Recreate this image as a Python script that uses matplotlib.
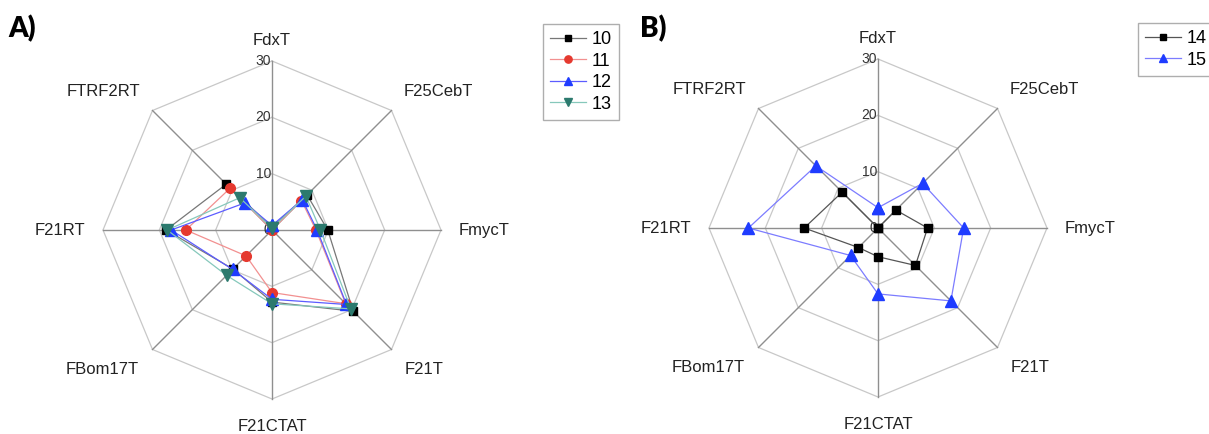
import numpy as np
import matplotlib.pyplot as plt

plt.rcParams['font.family'] = ['Liberation Sans', 'DejaVu Sans']

axis_names = ['FdxT', 'F25CebT', 'FmycT', 'F21T', 'F21CTAT', 'FBom17T', 'F21RT', 'FTRF2RT']
r_ticks = [0, 10, 20, 30]

# panel A series
s10 = [0.5, 8.8, 9.9, 20.4, 12.8, 9.8, 18.8, 11.5]
s11 = [0.0, 7.4, 7.8, 18.5, 11.1, 6.5, 15.3, 10.5]
s12 = [0.8, 7.6, 8.0, 18.7, 12.3, 9.9, 17.9, 6.8]
s13 = [0.3, 8.5, 8.6, 19.8, 13.1, 11.4, 18.6, 8.1]
# panel B series
s14 = [0.0, 4.5, 8.8, 9.4, 5.1, 4.9, 13.1, 9.0]
s15 = [3.6, 11.2, 15.2, 18.3, 11.7, 6.9, 23.0, 15.6]

# name, values, line colour, marker, marker colour, marker size
series_a = [('10', s10, '#777777', 's', 'black', 6),
            ('11', s11, '#f29090', 'o', '#e5392f', 7),
            ('12', s12, '#5c5cff', '^', '#1f3cff', 8),
            ('13', s13, '#86c8bb', 'v', '#2c7a6e', 8)]
series_b = [('14', s14, '#555555', 's', 'black', 6),
            ('15', s15, '#7c7cff', '^', '#1f3cff', 8)]

# label alignment and offset (pixels) from the outer vertex of each spoke
label_pos = [('center', 'bottom', 0, 13), ('left', 'bottom', 12, 11),
             ('left', 'center', 18, 0), ('left', 'top', 13, -12),
             ('center', 'top', 0, -20), ('right', 'top', -14, -12),
             ('right', 'center', -18, 0), ('right', 'bottom', -12, 11)]

W, H = 1209, 434
fig = plt.figure(figsize=(W / 100, H / 100), dpi=100)
theta = np.linspace(0, 2 * np.pi, len(axis_names), endpoint=False)
rmax = r_ticks[-1]


def radar(cx, cy, rad, series, tag, tag_x, leg_xy):
    ax = fig.add_axes([(cx - rad) / W, 1 - (cy + rad) / H, 2 * rad / W, 2 * rad / H],
                      projection='polar')
    ax.set_theta_zero_location('N')
    ax.set_theta_direction(-1)
    ax.set_ylim(0, rmax)
    ax.grid(False)
    ax.spines['polar'].set_visible(False)
    ax.set_xticks([])
    ax.set_yticks([])
    ax.patch.set_alpha(0)

    # octagon rings + spokes
    closed = np.append(theta, theta[0])
    for r in r_ticks[1:]:
        ax.plot(closed, [r] * len(closed), color='#c8c8c8', lw=0.9, zorder=1, clip_on=False)
    for t in theta:
        ax.plot([t, t], [0, rmax], color='#8f8f8f', lw=1.0, zorder=1, clip_on=False)

    for r in r_ticks:
        ax.annotate(str(r), (0, r), xytext=(-1, 0), textcoords='offset pixels',
                    ha='right', va='center', fontsize=10, color='#333333')

    for t, name, (ha, va, dx, dy) in zip(theta, axis_names, label_pos):
        ax.annotate(name, (t, rmax), xytext=(dx, dy), textcoords='offset pixels',
                    ha=ha, va=va, fontsize=12, color='#222222', annotation_clip=False)

    for name, vals, lc, mk, mc, ms in series:
        ax.plot(closed, vals + vals[:1], color=lc, lw=0.9,
                marker=mk, mfc=mc, mec=mc, ms=ms, label=name, zorder=3, clip_on=False)

    fig.text(tag_x / W, 1 - 29 / H, tag, fontsize=20, fontweight='heavy', family='Lato',
             va='center', ha='left')

    leg = ax.legend(loc='upper left', bbox_to_anchor=(leg_xy[0] / W, 1 - leg_xy[1] / H),
                    bbox_transform=fig.transFigure, borderaxespad=0, fontsize=13,
                    frameon=True, fancybox=False, edgecolor='#9a9a9a', handlelength=2.0,
                    handletextpad=0.3, labelspacing=0.25, borderpad=0.4, markerscale=0.75)
    leg.get_frame().set_linewidth(1.0)
    return ax


radar(272, 230, 169, series_a, 'A)', 8, (543, 24))
radar(878, 228, 169, series_b, 'B)', 640, (1138, 23))

fig.savefig('out.png', dpi=100)
